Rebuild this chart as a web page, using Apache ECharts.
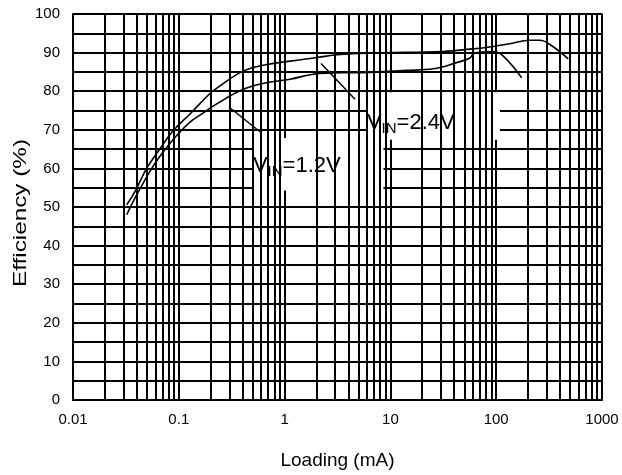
<!DOCTYPE html>
<html>
<head>
<meta charset="utf-8">
<script src="https://cdn.jsdelivr.net/npm/echarts@6/dist/echarts.min.js"></script>
<style>html,body{margin:0;padding:0;background:#fff;}#c{width:622px;height:475px;}</style>
</head>
<body>
<div id="c"></div>
<script>
// Data (load in mA, efficiency in %)
const vin24Load = [0.0322,0.0385,0.0497,0.0664,0.0887,0.1276,0.197,0.245,0.407,0.678,1.125,1.867,3.34,6.89,31.6,56.5,93.9,135,208,259,322,480];
const vin24Eff  = [50.6,54.0,60.0,65.1,69.8,74.1,79.4,81.4,85.2,86.9,87.8,88.6,89.5,89.9,90.3,90.9,91.6,92.3,93.2,93.2,92.1,88.4];
const vin12Load = [0.0322,0.0385,0.0555,0.0714,0.0955,0.1276,0.1586,0.228,0.407,0.678,1.125,1.867,3.34,4.46,14.3,25.4,42.3,56.5,62,93.9,116.7,174];
const vin12Eff  = [48.0,52.3,60.0,64.3,68.5,72.0,73.8,76.7,80.5,82.2,83.1,84.4,84.8,84.8,85.4,85.8,87.4,88.6,89.9,90.3,89.1,83.5];
const xTicks = [0.01,0.1,1,10,100,1000];
const yMin = 0, yMax = 100, yStep = 10;
const minorMultipliers = [2,3,4,5,6,7,8,9];
const xLabel = 'Loading (mA)';
const yLabel = 'Efficiency (%)';

const minorX = [];
for (let d = 0; d < xTicks.length - 1; d++) {
  for (const m of minorMultipliers) minorX.push(xTicks[d] * m);
}
const zip = (a, b) => a.map((v, i) => [v, b[i]]);

const font = 'Liberation Sans, Arial, sans-serif';
const chart = echarts.init(document.getElementById('c'));
const rich = {
  v: {fontSize: 22, fontFamily: font, color: '#000'},
  s: {fontSize: 15, fontFamily: font, color: '#000', padding: [12, 0, 0, 0]}
};
chart.setOption({
  animation: false,
  backgroundColor: '#fff',
  grid: {left: 73, right: 20, top: 14, bottom: 71, show: true, borderColor: '#000', borderWidth: 1.5},
  graphic: [{
    type: 'text', x: 21, y: 213, rotation: Math.PI / 2, scaleX: 1.35,
    style: {text: yLabel, font: '18px Liberation Sans, Arial, sans-serif', fill: '#000',
      align: 'center', verticalAlign: 'middle'}
  }],
  xAxis: {
    type: 'log', logBase: 10, min: 0.01, max: 1000,
    axisLine: {lineStyle: {color: '#000', width: 2}},
    axisTick: {show: false},
    splitLine: {show: true, lineStyle: {color: '#000', width: 2}},
    axisLabel: {color: '#000', fontSize: 15, fontFamily: font, margin: 12,
      formatter: v => String(+v.toPrecision(6))},
    name: xLabel, nameLocation: 'middle', nameGap: 51,
    nameTextStyle: {fontSize: 19, fontFamily: font, color: '#000'}
  },
  yAxis: {
    type: 'value', min: yMin, max: yMax, interval: yStep,
    axisLine: {show: true, lineStyle: {color: '#000', width: 2}},
    axisTick: {show: false},
    splitLine: {show: true, lineStyle: {color: '#000', width: 2}},
    minorTick: {show: false, splitNumber: 2},
    minorSplitLine: {show: true, lineStyle: {color: '#000', width: 2}},
    axisLabel: {color: '#000', fontSize: 15, fontFamily: font, margin: 13}
  },
  series: [
    {
      type: 'line', silent: true, data: [], symbol: 'none',
      markLine: {
        silent: true, symbol: 'none', animation: false,
        label: {show: false},
        lineStyle: {color: '#000', width: 2, type: 'solid'},
        data: minorX.map(x => ({xAxis: x}))
      }
    },
    {
      name: 'VIN=2.4V', type: 'line', data: zip(vin24Load, vin24Eff),
      symbol: 'none', smooth: 0.4, z: 5,
      lineStyle: {color: '#000', width: 1.6},
      markArea: {
        silent: true,
        itemStyle: {color: '#fff'},
        label: {show: true, position: 'insideLeft', distance: 0, offset: [0, 7],
          formatter: '{v|V}{s|IN}{v|=2.4V}', rich: rich},
        data: [[{coord: [6.0, 79.7]}, {coord: [108.6, 67.4]}]]
      },
      markLine: {
        silent: true, symbol: 'none', label: {show: false},
        lineStyle: {color: '#000', width: 1.5, type: 'solid'},
        data: [[{coord: [2.21, 87.2]}, {coord: [4.63, 77.9]}]]
      }
    },
    {
      name: 'VIN=1.2V', type: 'line', data: zip(vin12Load, vin12Eff),
      symbol: 'none', smooth: 0.4, z: 5,
      lineStyle: {color: '#000', width: 1.6},
      markArea: {
        silent: true,
        itemStyle: {color: '#fff'},
        label: {show: true, position: 'insideLeft', distance: 0, offset: [0, 2],
          formatter: '{v|V}{s|IN}{v|=1.2V}', rich: rich},
        data: [[{coord: [0.502, 67.9]}, {coord: [8.6, 54.3]}]]
      },
      markLine: {
        silent: true, symbol: 'none', label: {show: false},
        lineStyle: {color: '#000', width: 1.5, type: 'solid'},
        data: [[{coord: [0.298, 75.9]}, {coord: [0.585, 69.5]}]]
      }
    }
  ]
});
</script>
</body>
</html>
